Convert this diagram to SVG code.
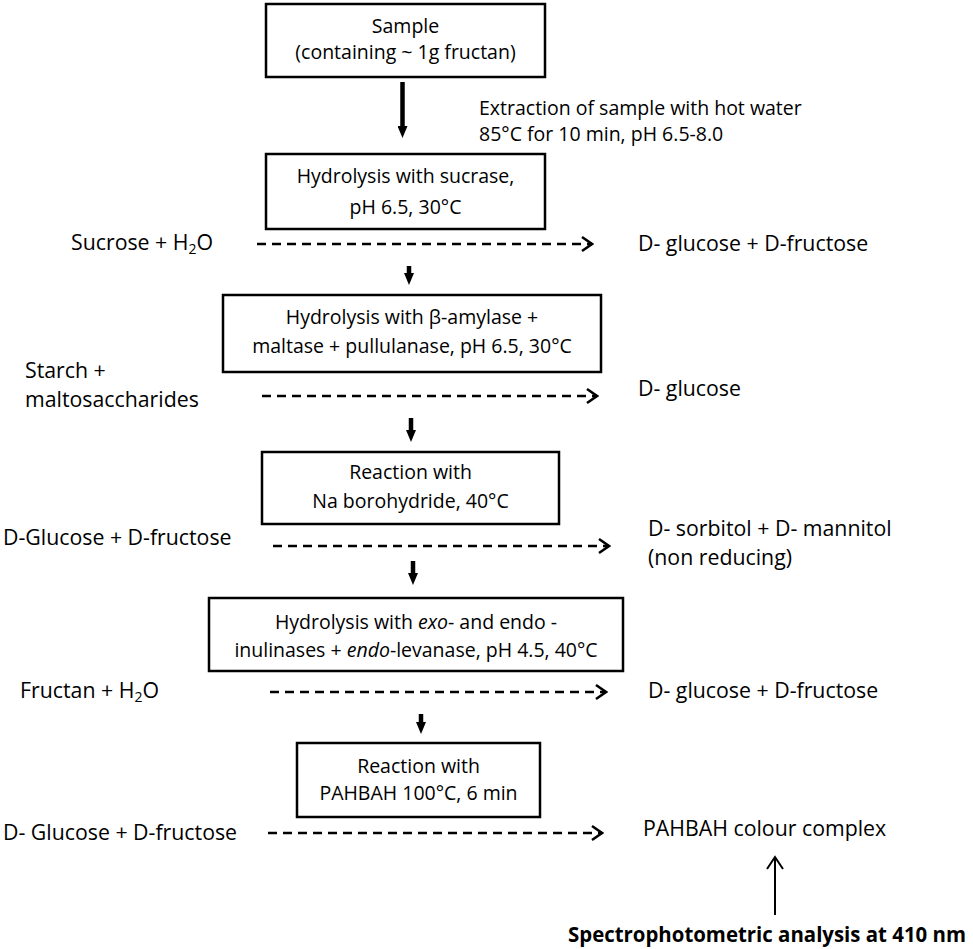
<svg xmlns="http://www.w3.org/2000/svg" width="973" height="949" viewBox="0 0 973 949">
<style>
text{font-family:"Open Sans","Liberation Sans",sans-serif;font-size:19.5px;fill:#000}
.c{text-anchor:middle}
.s{font-size:21.3px}
.b{font-weight:bold;font-size:20.5px}
.box{fill:#fff;stroke:#000;stroke-width:2.5}
.thick{stroke:#000;stroke-width:4.5;fill:none}
.dash{stroke:#000;stroke-width:2.5;stroke-dasharray:9 6;fill:none}
.thin{stroke:#000;stroke-width:2;fill:none}
.sub{font-size:14px}
</style>
<defs>
<marker id="tri" markerUnits="userSpaceOnUse" markerWidth="12" markerHeight="10" viewBox="0 0 12 10" refX="0" refY="5" orient="auto">
<path d="M0,0 L12,5 L0,10 z" fill="#000"/>
</marker>
<marker id="open" markerUnits="userSpaceOnUse" markerWidth="14" markerHeight="18" viewBox="-2 -2 14 18" refX="10" refY="7" orient="auto">
<path d="M0,0 L10,7 L0,14" fill="none" stroke="#000" stroke-width="2.5" stroke-dasharray="none"/>
</marker>
<marker id="openthin" markerUnits="userSpaceOnUse" markerWidth="16" markerHeight="20" viewBox="-2 -2 16 20" refX="12" refY="8" orient="auto">
<path d="M0,0 L12,8 L0,16" fill="none" stroke="#000" stroke-width="2" stroke-dasharray="none"/>
</marker>
</defs>

<g id="connectors">
<line class="thick" x1="402.5" y1="82" x2="402.5" y2="126" marker-end="url(#tri)"/>
<line class="thick" x1="409" y1="266" x2="409" y2="273" marker-end="url(#tri)"/>
<line class="thick" x1="411" y1="418" x2="411" y2="430" marker-end="url(#tri)"/>
<line class="thick" x1="413" y1="561" x2="413" y2="573" marker-end="url(#tri)"/>
<line class="thick" x1="421" y1="714" x2="421" y2="722" marker-end="url(#tri)"/>
<line class="dash" x1="257" y1="244" x2="592" y2="244" marker-end="url(#open)"/>
<line class="dash" x1="262" y1="396" x2="597" y2="396" marker-end="url(#open)"/>
<line class="dash" x1="273" y1="546" x2="609" y2="546" marker-end="url(#open)"/>
<line class="dash" x1="270" y1="692" x2="606" y2="692" marker-end="url(#open)"/>
<line class="dash" x1="268" y1="833" x2="602" y2="833" marker-end="url(#open)"/>
<line class="thin" x1="775" y1="915" x2="775" y2="857" marker-end="url(#openthin)"/>
</g>

<g id="sample">
<rect class="box" x="266" y="4" width="279" height="73"/>
<text class="c" x="405.5" y="33">Sample</text>
<text class="c" x="405.5" y="59">(containing ~ 1g fructan)</text>
</g>

<g id="extraction">
<text x="479" y="115">Extraction of sample with hot water</text>
<text x="479" y="141">85°C for 10 min, pH 6.5-8.0</text>
</g>

<g id="sucrase">
<rect class="box" x="266" y="154" width="279" height="75"/>
<text class="c" x="405.5" y="183">Hydrolysis with sucrase,</text>
<text class="c" x="405.5" y="214">pH 6.5, 30°C</text>
</g>
<g id="row1-left"><text class="s" x="71" y="250">Sucrose + H<tspan class="sub" dy="4">2</tspan><tspan dy="-4">O</tspan></text></g>
<g id="row1-right"><text class="s" x="638" y="251">D- glucose + D-fructose</text></g>

<g id="amylase">
<rect class="box" x="223" y="295" width="378" height="77"/>
<text class="c" x="412" y="324">Hydrolysis with β-amylase +</text>
<text class="c" x="412" y="353">maltase + pullulanase, pH 6.5, 30°C</text>
</g>
<g id="row2-left">
<text class="s" x="25" y="378">Starch +</text>
<text class="s" x="25" y="407">maltosaccharides</text>
</g>
<g id="row2-right"><text class="s" x="638" y="396">D- glucose</text></g>

<g id="borohydride">
<rect class="box" x="262" y="452" width="297" height="72"/>
<text class="c" x="410.5" y="479">Reaction with</text>
<text class="c" x="410.5" y="508">Na borohydride, 40°C</text>
</g>
<g id="row3-left"><text class="s" x="3" y="545">D-Glucose + D-fructose</text></g>
<g id="row3-right">
<text class="s" x="648" y="536">D- sorbitol + D- mannitol</text>
<text class="s" x="648" y="565">(non reducing)</text>
</g>

<g id="inulinase">
<rect class="box" x="209" y="598" width="414" height="73"/>
<text class="c" x="416" y="629">Hydrolysis with <tspan font-style="italic">exo</tspan>- and endo -</text>
<text class="c" x="416" y="657">inulinases + <tspan font-style="italic">endo</tspan>-levanase, pH 4.5, 40°C</text>
</g>
<g id="row4-left"><text class="s" x="20" y="698">Fructan + H<tspan class="sub" dy="4">2</tspan><tspan dy="-4">O</tspan></text></g>
<g id="row4-right"><text class="s" x="648" y="698">D- glucose + D-fructose</text></g>

<g id="pahbah">
<rect class="box" x="297" y="743" width="243" height="74"/>
<text class="c" x="418.5" y="773">Reaction with</text>
<text class="c" x="418.5" y="800">PAHBAH 100°C, 6 min</text>
</g>
<g id="row5-left"><text class="s" x="3" y="840">D- Glucose + D-fructose</text></g>
<g id="row5-right"><text class="s" x="643" y="836">PAHBAH colour complex</text></g>

<g id="spectro"><text class="b" x="568" y="942" textLength="398" lengthAdjust="spacingAndGlyphs">Spectrophotometric analysis at 410 nm</text></g>
</svg>
